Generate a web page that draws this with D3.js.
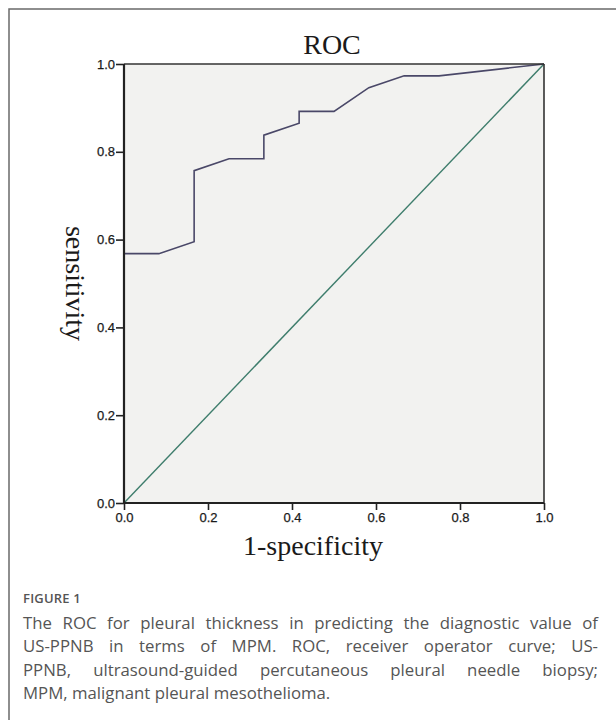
<!DOCTYPE html>
<html>
<head>
<meta charset="utf-8">
<script src="https://cdn.jsdelivr.net/npm/d3@7/dist/d3.min.js"></script>
<style>
  html, body { margin: 0; padding: 0; background: #fff; }
  #wrap { position: relative; width: 616px; height: 720px; overflow: hidden; }
  svg { position: absolute; left: 0; top: 0; }
  #caption { position: absolute; left: 23px; top: 589px; width: 575px; font-family: "Open Sans", sans-serif; color: #555; }
  #caption .fig { font-size: 13px; font-weight: 600; color: #555; letter-spacing: 0.2px; margin-bottom: 4px; }
  #caption .ln { font-size: 16.8px; line-height: 23.4px; text-align: justify; text-align-last: justify; white-space: nowrap; }
  #caption .ln.last { text-align-last: left; }
</style>
</head>
<body>
<div id="wrap">
<svg id="chart" width="616" height="720"></svg>
<div id="caption"></div>
</div>
<script>
// ---- data ----
const fprValues = [0, 0, 0.083, 0.167, 0.167, 0.25, 0.333, 0.333, 0.417, 0.417, 0.5, 0.583, 0.667, 0.75, 1.0];
const tprValues = [0, 0.568, 0.568, 0.595, 0.757, 0.784, 0.784, 0.838, 0.865, 0.892, 0.892, 0.946, 0.973, 0.973, 1.0];
const refX = [0, 1];
const refY = [0, 1];
const tickValues = [0, 0.2, 0.4, 0.6, 0.8, 1.0];
const titleText = "ROC";
const xTitle = "1-specificity";
const yTitle = "sensitivity";
const figLabel = "FIGURE 1";
const captionLines = [
  "The ROC for pleural thickness in predicting the diagnostic value of",
  "US-PPNB in terms of MPM. ROC, receiver operator curve; US-",
  "PPNB, ultrasound-guided percutaneous pleural needle biopsy;",
  "MPM, malignant pleural mesothelioma."
];

// ---- drawing ----
const svg = d3.select("#chart");
// outer frame (extends beyond right/bottom edges)
svg.append("rect").attr("x", 9).attr("y", 9).attr("width", 640).attr("height", 740)
  .attr("fill", "none").attr("stroke", "#6a6a6a").attr("stroke-width", 1.5);

const x = d3.scaleLinear().domain([0, 1]).range([124, 544]);
const y = d3.scaleLinear().domain([0, 1]).range([503, 64]);

svg.append("rect").attr("x", x(0)).attr("y", y(1)).attr("width", x(1) - x(0)).attr("height", y(0) - y(1))
  .attr("fill", "#f2f2f0");

// reference diagonal
const refData = refX.map((d, i) => [d, refY[i]]);
svg.append("path").datum(refData)
  .attr("d", d3.line().x(d => x(d[0])).y(d => y(d[1])))
  .attr("fill", "none").attr("stroke", "#3e7d6c").attr("stroke-width", 1.4);

// ROC curve
const rocData = fprValues.map((d, i) => [d, tprValues[i]]);
svg.append("path").datum(rocData)
  .attr("d", d3.line().x(d => x(d[0])).y(d => y(d[1])))
  .attr("fill", "none").attr("stroke", "#4a4868").attr("stroke-width", 1.6);

// frame top/right
svg.append("line").attr("x1", x(0)).attr("x2", x(1)).attr("y1", y(1)).attr("y2", y(1))
  .attr("stroke", "#333").attr("stroke-width", 1.6);
svg.append("line").attr("x1", x(1)).attr("x2", x(1)).attr("y1", y(1)).attr("y2", y(0))
  .attr("stroke", "#333").attr("stroke-width", 1.6);

// axes
const fmt = d3.format(".1f");
const gx = svg.append("g").attr("transform", `translate(0,${y(0)})`)
  .call(d3.axisBottom(x).tickValues(tickValues).tickFormat(fmt).tickSize(7).tickPadding(3));
const gy = svg.append("g").attr("transform", `translate(${x(0)},0)`)
  .call(d3.axisLeft(y).tickValues(tickValues).tickFormat(fmt).tickSize(8).tickPadding(1));
[gx, gy].forEach(g => {
  g.select(".domain").attr("stroke", "#222").attr("stroke-width", 2.2);
  g.selectAll(".tick line").attr("stroke", "#222").attr("stroke-width", 1.6);
  g.selectAll(".tick text").attr("fill", "#1a1a1a").attr("font-family", "Liberation Sans, Arial, sans-serif")
    .attr("font-size", 13).attr("stroke", "#1a1a1a").attr("stroke-width", 0.25);
});
gx.select(".domain").attr("d", `M${x(0)},0H${x(1)}`);
gy.select(".domain").attr("d", `M0,${y(0)}V${y(1)}`);

// titles
svg.append("text").attr("x", 332).attr("y", 54).attr("text-anchor", "middle")
  .attr("font-family", "Liberation Serif, Times New Roman, serif").attr("font-size", 28).attr("fill", "#1a1a1a")
  .text(titleText);
svg.append("text").attr("x", 313).attr("y", 555).attr("text-anchor", "middle")
  .attr("font-family", "Liberation Serif, Times New Roman, serif").attr("font-size", 28).attr("fill", "#1a1a1a")
  .text(xTitle);
svg.append("text").attr("transform", `translate(66,${(y(0) + y(1)) / 2}) rotate(90)`).attr("text-anchor", "middle")
  .attr("font-family", "Liberation Serif, Times New Roman, serif").attr("font-size", 28).attr("fill", "#1a1a1a")
  .text(yTitle);

// caption
const cap = d3.select("#caption");
cap.append("div").attr("class", "fig").text(figLabel);
captionLines.forEach((t, i) => {
  cap.append("div").attr("class", "ln" + (i === captionLines.length - 1 ? " last" : "")).text(t);
});
</script>
</body>
</html>
